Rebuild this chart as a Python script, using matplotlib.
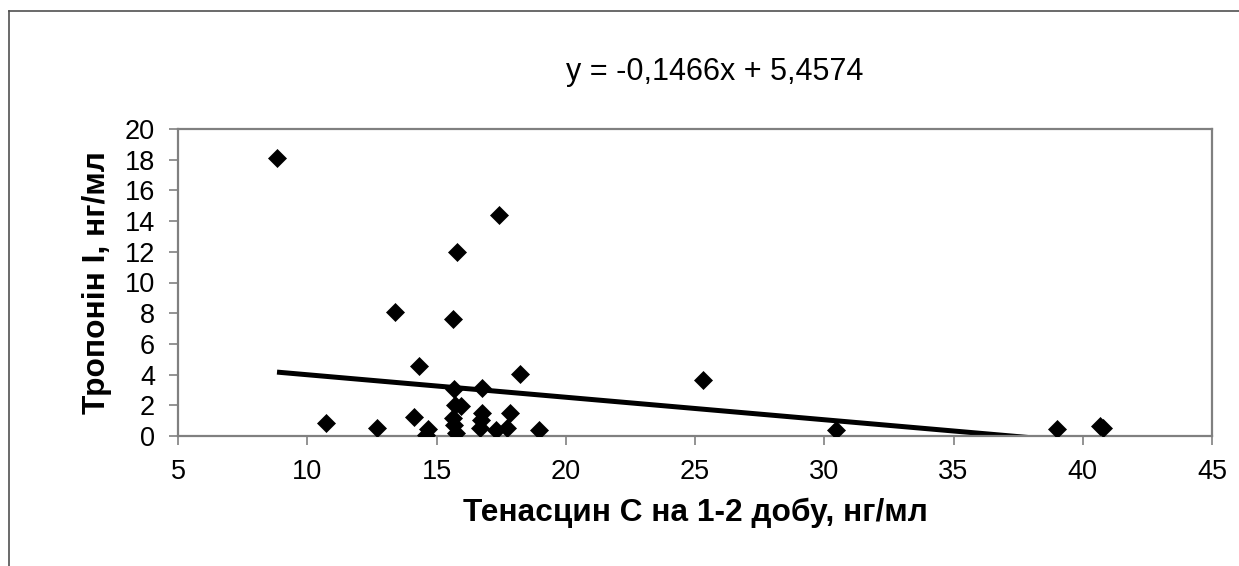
import matplotlib.pyplot as plt
from matplotlib.lines import Line2D

plt.rcParams['font.family'] = ['Liberation Sans', 'DejaVu Sans']

# Тенасцин С (нг/мл) і тропонін І (нг/мл)
tenascin = [8.83, 10.74, 12.69, 14.14, 14.32, 13.40, 14.58, 14.69,
            15.64, 15.78, 17.42, 18.24, 15.68, 16.77, 15.73, 15.95,
            15.65, 15.68, 15.74, 16.77, 16.74, 16.70, 17.30, 17.71,
            17.84, 18.95, 25.30, 30.45, 39.00, 40.65, 40.80]
troponin = [18.11, 0.87, 0.50, 1.26, 4.55, 8.08, 0.07, 0.43,
            7.60, 11.97, 14.38, 4.02, 3.08, 3.15, 2.00, 1.95,
            1.15, 0.72, 0.17, 1.48, 1.04, 0.54, 0.39, 0.54,
            1.48, 0.39, 3.65, 0.39, 0.44, 0.65, 0.50]

slope, intercept = -0.1466, 5.4574
equation = 'y = -0,1466x + 5,4574'

x_ticks = [5, 10, 15, 20, 25, 30, 35, 40, 45]
y_ticks = [0, 2, 4, 6, 8, 10, 12, 14, 16, 18, 20]

fig = plt.figure(figsize=(12.39, 5.66), dpi=100)
ax = fig.add_axes([178 / 1239, 130 / 566, 1034 / 1239, 307 / 566])

x0, x1 = min(tenascin), max(tenascin)
ax.plot([x0, x1], [slope * x0 + intercept, slope * x1 + intercept],
        color='black', lw=3.6, solid_capstyle='butt', zorder=2)
ax.plot(tenascin, troponin, linestyle='none', marker='D', markersize=9.6,
        color='black', markeredgewidth=0.5, zorder=3)

ax.set_xlim(5, 45)
ax.set_ylim(0, 20)
ax.set_xticks(x_ticks)
ax.set_yticks(y_ticks)
ax.tick_params(axis='both', direction='out', length=6.5, width=1.2,
               color='#808080', labelsize=19.5)
ax.tick_params(axis='x', pad=10)
ax.tick_params(axis='y', pad=10)
for s in ax.spines.values():
    s.set_color('#808080')
    s.set_linewidth(1.6)

ax.set_xlabel('Тенасцин С на 1-2 добу, нг/мл', fontsize=22.8,
              fontweight='bold', labelpad=9)
ax.set_ylabel('Тропонін І, нг/мл', fontsize=22.8, fontweight='bold',
              labelpad=9)

fig.text(715 / 1239, 1 - 72 / 566, equation, fontsize=22,
         ha='center', va='center')

# рамка області діаграми
fig.add_artist(Line2D([8.5 / 1239, 8.5 / 1239], [0, 1 - 10.5 / 566],
                      color='#505050', lw=1.2))
fig.add_artist(Line2D([8.5 / 1239, 1], [1 - 10.5 / 566, 1 - 10.5 / 566],
                      color='#505050', lw=1.2))

fig.savefig('out.png', dpi=100)
